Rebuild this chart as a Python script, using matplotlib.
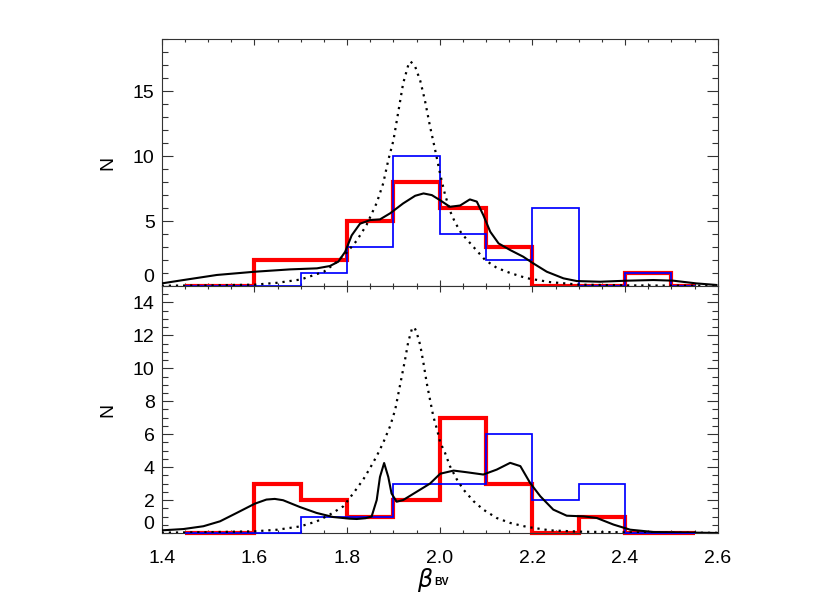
import numpy as np
import matplotlib
matplotlib.use("Agg")
import matplotlib.pyplot as plt
from matplotlib.ticker import MultipleLocator

plt.rcParams['font.family'] = ['Liberation Sans', 'DejaVu Sans']
plt.rcParams['mathtext.fontset'] = 'dejavusans'

# histogram bins (half-bin padding at both ends)
bin_edges = [1.45, 1.5, 1.6, 1.7, 1.8, 1.9, 2.0, 2.1, 2.2, 2.3, 2.4, 2.5, 2.55]
top_red = [0, 0, 2, 2, 5, 8, 6, 3, 0, 0, 1, 0]
top_blue = [0, 0, 0, 1, 3, 10, 4, 2, 6, 0, 1, 0]
bot_red = [0, 0, 3, 2, 1, 2, 7, 3, 0, 1, 0, 0]
bot_blue = [0, 0, 0, 1, 1, 3, 3, 6, 2, 3, 0, 0]

# dotted curves
top_dot_x = [1.40, 1.50, 1.60, 1.65, 1.70, 1.75, 1.774, 1.80, 1.821, 1.842, 1.864, 1.878,
             1.889, 1.900, 1.911, 1.921, 1.932, 1.937, 1.947, 1.958, 1.968, 1.979, 1.990,
             2.001, 2.011, 2.022, 2.033, 2.047, 2.073, 2.098, 2.123, 2.152, 2.188, 2.238,
             2.303, 2.40, 2.50, 2.60]
top_dot_y = [0.02, 0.05, 0.1, 0.25, 0.5, 1.1, 1.74, 2.6, 3.5, 4.7, 6.4, 7.9,
             9.7, 11.2, 13.5, 15.6, 17.0, 17.3, 16.9, 15.8, 14.3, 12.3, 10.5,
             8.6, 7.1, 5.8, 4.9, 4.05, 3.0, 2.0, 1.4, 1.0, 0.6, 0.3,
             0.1, 0.05, 0.03, 0.02]
bot_dot_x = [1.40, 1.50, 1.60, 1.65, 1.699, 1.735, 1.763, 1.792, 1.814, 1.835, 1.850, 1.864,
             1.878, 1.893, 1.904, 1.911, 1.918, 1.925, 1.932, 1.940, 1.945, 1.950, 1.958,
             1.965, 1.972, 1.979, 1.986, 1.994, 2.001, 2.011, 2.022, 2.037, 2.051, 2.073,
             2.094, 2.123, 2.152, 2.188, 2.238, 2.303, 2.40, 2.50, 2.60]
bot_dot_y = [0.02, 0.05, 0.1, 0.2, 0.4, 0.71, 1.12, 1.62, 2.43, 3.25, 3.96, 4.67,
             5.48, 6.49, 7.5, 8.5, 9.5, 10.5, 11.6, 12.4, 12.5, 12.2, 11.4,
             10.3, 9.1, 8.1, 7.1, 6.3, 5.5, 4.9, 4.06, 3.25, 2.64, 1.93,
             1.42, 0.91, 0.61, 0.37, 0.16, 0.08, 0.04, 0.02, 0.01]

# solid curves
top_kde_x = [1.40, 1.447, 1.519, 1.601, 1.677, 1.735, 1.763, 1.781, 1.796, 1.810, 1.828,
             1.850, 1.871, 1.893, 1.921, 1.947, 1.965, 1.983, 2.001, 2.022, 2.044, 2.065,
             2.080, 2.094, 2.109, 2.127, 2.152, 2.180, 2.202, 2.231, 2.267, 2.296, 2.346,
             2.404, 2.461, 2.504, 2.554, 2.597]
top_kde_y = [0.2, 0.46, 0.85, 1.1, 1.28, 1.36, 1.54, 1.87, 2.64, 3.9, 4.8,
             5.08, 5.13, 5.6, 6.36, 6.95, 7.13, 7.0, 6.6, 6.1, 6.2, 6.67,
             6.5, 5.46, 4.18, 3.28, 2.77, 2.26, 1.74, 1.1, 0.59, 0.38, 0.33,
             0.41, 0.46, 0.41, 0.2, 0.08]
bot_kde_x = [1.40, 1.447, 1.490, 1.526, 1.562, 1.601, 1.626, 1.644, 1.662, 1.698, 1.734,
             1.770, 1.806, 1.821, 1.840, 1.853, 1.864, 1.871, 1.880, 1.889, 1.896, 1.907,
             1.921, 1.950, 1.979, 2.001, 2.030, 2.058, 2.094, 2.123, 2.152, 2.174, 2.195,
             2.217, 2.245, 2.274, 2.310, 2.339, 2.375, 2.411, 2.461, 2.60]
bot_kde_y = [0.16, 0.24, 0.41, 0.71, 1.22, 1.78, 2.03, 2.07, 1.99, 1.58, 1.22,
             0.97, 0.87, 0.85, 0.9, 1.0, 2.0, 3.4, 4.25, 3.4, 2.4, 1.9,
             2.0, 2.5, 3.0, 3.6, 3.79, 3.69, 3.55, 3.85, 4.26, 4.06, 3.04,
             2.23, 1.42, 1.05, 1.01, 0.91, 0.51, 0.2, 0.06, 0.0]

fig = plt.figure(figsize=(8.3, 5.93), dpi=100)
ax1 = fig.add_axes([0.1948, 0.5177, 0.67, 0.416])
ax2 = fig.add_axes([0.1948, 0.1012, 0.67, 0.4165])

panels = [
    (ax1, top_red, top_blue, top_dot_x, top_dot_y, top_kde_x, top_kde_y, 19, 5, 1),
    (ax2, bot_red, bot_blue, bot_dot_x, bot_dot_y, bot_kde_x, bot_kde_y, 15, 2, 0.5),
]

for ax, red, blue, dx, dy, kx, ky, ytop, ymaj, ymin in panels:
    ax.stairs(red, bin_edges, baseline=None, color='red', lw=3, clip_on=False, zorder=2)
    ax.stairs(blue, bin_edges, baseline=None, color='blue', lw=1.25, clip_on=False, zorder=3)
    ax.plot(dx, dy, color='black', lw=1.6, ls=(0, (1, 2.2)), zorder=4)
    ax.plot(kx, ky, color='black', lw=1.5, zorder=5)

    ax.set_xlim(1.4, 2.6)
    ax.xaxis.set_major_locator(MultipleLocator(0.2))
    ax.xaxis.set_minor_locator(MultipleLocator(0.05))
    ax.yaxis.set_minor_locator(MultipleLocator(ymin))
    ax.tick_params(axis='both', which='both', direction='in', top=True, right=True,
                   labelsize=14, color='#333333', width=0.8)
    ax.tick_params(axis='x', which='major', length=4.5, pad=12.5)
    ax.tick_params(axis='x', which='minor', length=2.3)
    ax.tick_params(axis='y', which='major', length=8, pad=5)
    ax.tick_params(axis='y', which='minor', length=4)
    for s in ax.spines.values():
        s.set_linewidth(0.8)
        s.set_color('#333333')
    ax.set_ylabel('N', fontsize=14, labelpad=12)

    # the zero label sits a bit above the axis
    yt = np.arange(0, ytop + 0.1, ymaj)
    ax.set_yticks(yt)
    ax.set_yticklabels([('' if v == 0 else '%d' % v) for v in yt])
    ax.set_ylim(0, ytop)
    ax.annotate('0', xy=(0, 0), xycoords=('axes fraction', 'data'), xytext=(-5.5, 6),
                textcoords='offset points', ha='right', va='center', fontsize=14)

ax1.tick_params(axis='x', labelbottom=False)
ax2.set_xticks([1.4, 1.6, 1.8, 2.0, 2.2, 2.4, 2.6])
ax2.set_xticklabels(['1.4', '1.6', '1.8', '2.0', '2.2', '2.4', '2.6'])
ax2.set_xlim(1.4, 2.6)

# x label: beta with a small BV subscript
ax2.annotate(r'$\beta$', xy=(0.4736, 0), xycoords='axes fraction', xytext=(0, -33.5),
             textcoords='offset points', ha='center', va='center', fontsize=17)
ax2.annotate('BV', xy=(0.4897, 0), xycoords='axes fraction', xytext=(0, -35.5),
             textcoords='offset points', ha='left', va='center', fontsize=7.5,
             fontweight='bold')

fig.savefig('out.png', dpi=100)
